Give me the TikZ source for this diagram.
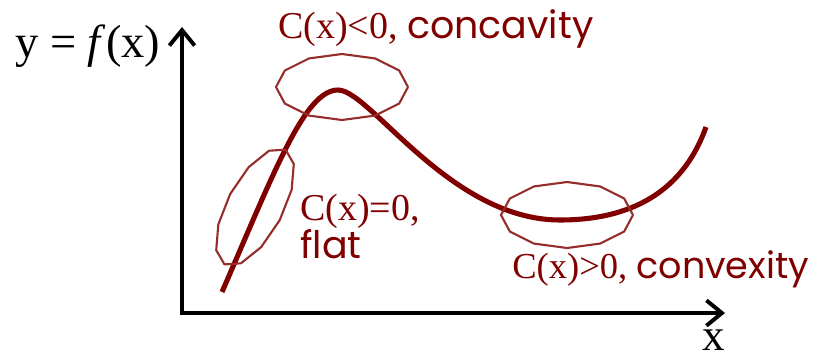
\documentclass[tikz,border=0pt]{standalone}
\usepackage{fontspec}
\setmainfont{Liberation Serif}
\newfontfamily\gothic{Poppins}
\usetikzlibrary{arrows.meta}
\definecolor{maroondark}{RGB}{128,0,0}
\definecolor{ringred}{RGB}{150,45,45}
\tikzset{
  axis/.style={line width=2.8pt,-{Straight Barb[length=11pt,width=18pt,line width=2.8pt]}},
  curve/.style={maroondark,line width=3.6pt},
  ring/.style={ringred,line width=1.5pt,line join=round},
  lbl/.style={text=maroondark,font=\fontsize{27}{30}\selectfont,anchor=base west,inner sep=0pt}
}

\begin{document}
\begin{tikzpicture}[x=0.025cm,y=-0.025cm]
        \useasboundingbox (0,0) rectangle (819,358);
        \coordinate (origin) at (182,313);
        \coordinate (ytip) at (182,27);
        \coordinate (xtip) at (725,313);
        \draw[axis] ([yshift=-1.4pt]origin) -- (ytip);
        \draw[axis] ([xshift=-1.4pt]origin) -- (xtip);
        \node[anchor=base west,inner sep=0pt,font=\fontsize{33}{36}\selectfont]
          (ylabel) at (15,57) {y = \textit{f}(x)};
        \node[anchor=base west,inner sep=0pt,font=\fontsize{32}{34}\selectfont]
          (xlabel) at (702,350) {x};
        \draw[curve] (222,292) .. controls (275,170) and (305,90) .. (338,90)
          .. controls (370,90) and (450,220) .. (560,220)
          .. controls (620,220) and (680,200) .. (706,127);
        \draw[ring] plot[samples=13,domain=0:360] ({342+66*cos(\x)},{87+33*sin(\x)});
        \draw[ring,shift={(255,207)},rotate=62]
          plot[samples=13,domain=0:360] ({65*cos(\x)},{28*sin(\x)});
        \draw[ring] plot[samples=13,domain=0:360] ({567+66*cos(\x)},{215+33*sin(\x)});
        \node[lbl] (concave) at (278,38) {C(x)<0, {\gothic concavity}};
        \node[lbl,align=left] (flat) at (300,258) {C(x)=0,\\[-3pt]{\gothic flat}};
        \node[lbl,font=\fontsize{26}{30}\selectfont] (convex) at (512,278)
          {C(x)>0, {\gothic convexity}};
      \end{tikzpicture}
\end{document}
